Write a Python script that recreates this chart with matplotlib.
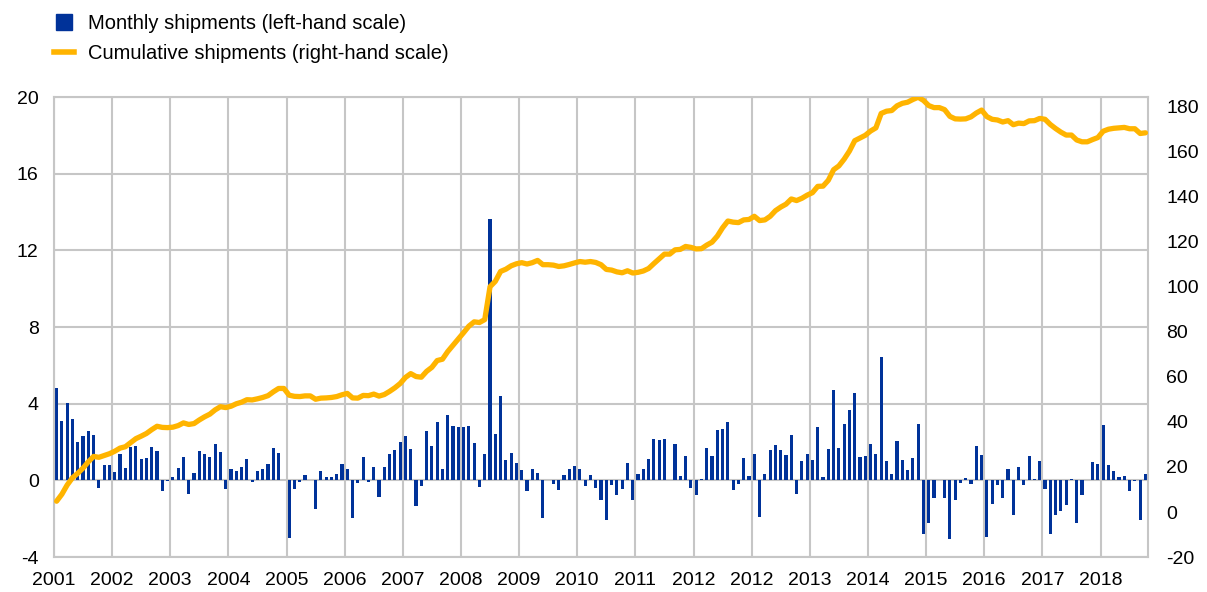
import matplotlib
matplotlib.use("Agg")
import matplotlib.pyplot as plt
from matplotlib.lines import Line2D

plt.rcParams['font.family'] = ['Liberation Sans', 'DejaVu Sans']
plt.rcParams['axes.unicode_minus'] = False

# monthly shipments (left-hand scale), one bar per month
monthly = [
    4.8, 3.1, 4.05, 3.2, 2.0, 2.3, 2.55, 2.35, -0.4, 0.8, 0.8,
    0.45, 1.37, 0.65, 1.75, 1.8, 1.1, 1.18, 1.75, 1.54, -0.56, -0.05,
    0.2, 0.67, 1.23, -0.7, 0.4, 1.54, 1.4, 1.23, 1.88, 1.46, -0.44,
    0.6, 0.49, 0.7, 1.13, -0.1, 0.49, 0.6, 0.83, 1.68, 1.43, 0.0,
    -3.0, -0.45, -0.1, 0.26, 0.0, -1.5, 0.5, 0.17, 0.17, 0.35, 0.83,
    0.57, -1.95, -0.14, 1.2, -0.1, 0.7, -0.87, 0.7, 1.36, 1.6, 1.98,
    2.3, 1.65, -1.33, -0.3, 2.6, 1.8, 3.04, 0.6, 3.4, 2.83, 2.8,
    2.8, 2.83, 1.95, -0.35, 1.36, 13.65, 2.43, 4.38, 1.04, 1.44, 0.92,
    0.52, -0.57, 0.6, 0.38, -1.95, 0.0, -0.2, -0.52, 0.26, 0.6, 0.73,
    0.6, -0.3, 0.26, -0.38, -1.04, -2.09, -0.26, -0.78, -0.43, 0.9, -1.04,
    0.31, 0.6, 1.11, 2.17, 2.12, 2.14, 0.0, 1.91, 0.21, 1.29, -0.38,
    -0.78, 0.09, 1.69, 1.27, 2.64, 2.7, 3.06, -0.52, -0.2, 1.17, 0.21,
    1.39, -1.91, 0.35, 1.57, 1.83, 1.57, 1.3, 2.35, -0.7, 1.0, 1.39,
    1.08, 2.78, 0.17, 1.62, 4.73, 1.7, 2.96, 3.65, 4.56, 1.22, 1.25,
    1.91, 1.36, 6.43, 1.0, 0.31, 2.05, 1.08, 0.56, 1.18, 2.96, -2.82,
    -2.23, -0.9, 0.0, -0.9, -3.04, -1.04, -0.14, 0.14, -0.17, 1.77, 1.3,
    -2.96, -1.22, -0.26, -0.9, 0.61, -1.83, 0.7, -0.23, 1.25, 0.09, 1.0,
    -0.43, -2.78, -1.83, -1.6, -1.3, 0.09, -2.23, -0.78, 0.0, 0.96, 0.87,
    2.87, 0.82, 0.47, 0.17, 0.21, -0.56, -0.05, -2.09, 0.31,
]

# cumulative shipments (right-hand scale)
cumulative = [
    4.8, 7.9, 12.0, 15.2, 17.2, 19.5, 22.3, 24.7, 24.3, 25.1, 25.9,
    27.0, 28.4, 29.0, 30.8, 32.6, 33.7, 34.9, 36.6, 38.1, 37.6, 37.5,
    37.7, 38.4, 39.6, 38.9, 39.3, 40.9, 42.3, 43.5, 45.4, 46.8, 46.4,
    47.0, 48.1, 48.8, 49.9, 49.8, 50.3, 50.9, 51.7, 53.4, 54.9, 54.9,
    51.9, 51.4, 51.3, 51.6, 51.6, 50.1, 50.6, 50.7, 50.9, 51.3, 52.1,
    52.7, 50.7, 50.6, 51.8, 51.7, 52.4, 51.5, 52.2, 53.6, 55.2, 57.1,
    59.8, 61.5, 60.2, 59.9, 62.5, 64.3, 67.3, 67.9, 71.3, 74.1, 76.9,
    79.7, 82.6, 84.5, 84.2, 85.5, 100.1, 102.5, 106.9, 107.9, 109.4, 110.3,
    110.8, 110.2, 110.8, 111.8, 109.9, 109.9, 109.7, 109.1, 109.4, 110.0, 110.7,
    111.3, 111.0, 111.3, 110.9, 109.9, 107.8, 107.5, 106.7, 106.3, 107.2, 106.2,
    106.5, 107.1, 108.2, 110.4, 112.5, 114.6, 114.6, 116.5, 116.7, 118.0, 117.6,
    116.9, 117.0, 118.6, 119.9, 122.6, 126.3, 129.3, 128.8, 128.6, 129.8, 130.0,
    131.4, 129.5, 129.8, 131.4, 133.9, 135.5, 136.8, 139.1, 138.4, 139.4, 140.8,
    141.9, 144.7, 144.8, 147.4, 152.1, 153.8, 156.8, 160.4, 165.0, 166.2, 167.4,
    169.3, 170.7, 177.1, 178.1, 178.4, 180.5, 181.6, 182.1, 183.3, 184.3, 182.9,
    180.6, 179.7, 179.7, 178.8, 175.8, 174.7, 174.6, 174.7, 175.6, 177.3, 178.6,
    175.7, 174.5, 174.2, 173.3, 173.9, 172.1, 172.8, 172.6, 173.8, 173.9, 174.9,
    174.5, 172.2, 170.4, 168.8, 167.5, 167.5, 165.3, 164.5, 164.5, 165.5, 166.4,
    169.2, 170.1, 170.5, 170.7, 170.9, 170.3, 170.3, 168.2, 168.5,
]

year_labels = ['2001', '2002', '2003', '2004', '2005', '2006', '2007', '2008',
               '2009', '2010', '2011', '2012', '2012', '2013', '2014', '2015',
               '2016', '2017', '2018']

left_ticks = [-4, 0, 4, 8, 12, 16, 20]
right_ticks = [-20, 0, 20, 40, 60, 80, 100, 120, 140, 160, 180]

blue = '#003299'
orange = '#ffb400'
grid = '#c6c6c6'

x = list(range(len(monthly)))
tick_pos = [11 * k - 0.5 for k in range(len(year_labels))]

fig = plt.figure(figsize=(12.07, 5.92), dpi=100)
ax = fig.add_axes([0.0447, 0.0591, 0.9065, 0.777])

ax.bar(x, monthly, width=0.6, color=blue, zorder=2)
ax.set_xlim(-0.5, len(monthly) - 0.5)
ax.set_ylim(-4, 20)
ax.set_yticks(left_ticks)
ax.set_xticks(tick_pos)
ax.set_xticklabels(year_labels)
ax.set_axisbelow(True)
ax.grid(True, color=grid, linewidth=1.5)
ax.tick_params(axis='both', length=0, labelsize=14, colors='black')
ax.tick_params(axis='y', pad=11)
ax.tick_params(axis='x', pad=11)
for s in ax.spines.values():
    s.set_color(grid)
    s.set_linewidth(1.5)

ax2 = ax.twinx()
ax2.plot(x, cumulative, color=orange, linewidth=3.8, solid_capstyle='round',
         solid_joinstyle='round', zorder=3)
ax2.set_ylim(-20, 184.4)
ax2.set_yticks(right_ticks)
ax2.tick_params(axis='y', length=0, labelsize=14, pad=13)
for s in ax2.spines.values():
    s.set_visible(False)

handles = [
    Line2D([], [], marker='s', linestyle='none', markersize=12,
           markerfacecolor=blue, markeredgecolor=blue),
    Line2D([], [], color=orange, linewidth=4),
]
fig.legend(handles, ['Monthly shipments (left-hand scale)',
                     'Cumulative shipments (right-hand scale)'],
           loc='upper left', bbox_to_anchor=(0.038, 0.99), frameon=False,
           fontsize=14.5, handlelength=1.0, handletextpad=0.7,
           labelspacing=0.57, borderaxespad=0)

fig.savefig('out.png', dpi=100)
